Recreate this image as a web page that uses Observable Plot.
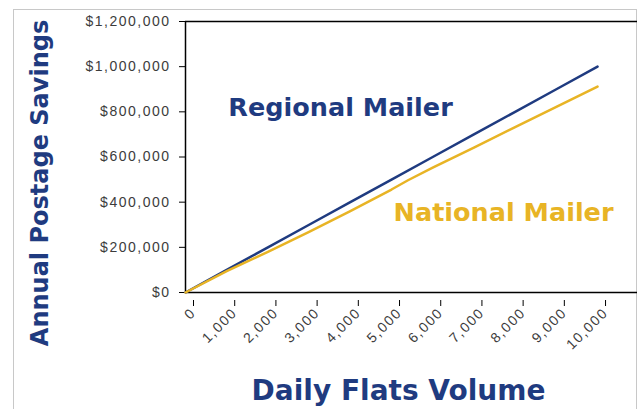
<!DOCTYPE html>
<html>
<head>
<meta charset="utf-8">
<script src="https://cdn.jsdelivr.net/npm/d3@7"></script>
<script src="https://cdn.jsdelivr.net/npm/@observablehq/plot@0.6"></script>
<style>
  html, body { margin: 0; padding: 0; background: #fff; }
  #wrap { position: relative; width: 640px; height: 409px; overflow: hidden; }
  #box { position: absolute; left: 13px; top: 9px; width: 622px; height: 420px;
         border-left: 1px solid #c8c8c8; border-top: 1px solid #c8c8c8; border-right: 1px solid #c8c8c8; }
  #chart { position: absolute; left: 0; top: 0; }
  #chart g[aria-label$="tick label"] text { letter-spacing: 1.5px; }
</style>
</head>
<body>
<div id="wrap"><div id="box"></div><div id="chart"></div></div>
<script>
const regionalVolumes = [0, 1000, 2000, 3000, 4000, 5000, 6000, 7000, 8000, 9000, 10000];
const regionalSavings = [0, 100000, 200000, 300000, 400000, 500000, 600000, 700000, 800000, 900000, 1000000];
const nationalVolumes = [0, 1000, 2000, 3000, 4000, 5000, 5400, 6000, 7000, 8000, 9000, 10000];
const nationalSavings = [0, 95000, 180000, 268000, 360000, 456000, 497000, 553000, 642000, 732000, 822000, 912000];
const yTicks = [0, 200000, 400000, 600000, 800000, 1000000, 1200000];
const xTicks = [0, 1000, 2000, 3000, 4000, 5000, 6000, 7000, 8000, 9000, 10000];
const seriesLabels = ["Regional Mailer", "National Mailer"];
const xTitle = "Daily Flats Volume";
const yTitle = "Annual Postage Savings";

const navy = "#1f3b80";
const gold = "#e8b425";
const titleFont = "'DejaVu Sans', sans-serif";

const regional = regionalVolumes.map((v, i) => ({x: v, y: regionalSavings[i]}));
const national = nationalVolumes.map((v, i) => ({x: v, y: nationalSavings[i]}));
const labels = [
  {x: 1040, y: 818000, text: seriesLabels[0], color: navy},
  {x: 5050, y: 352000, text: seriesLabels[1], color: gold}
];

const fmtX = d3.format(",");
const fmtY = d => "$" + d3.format(",")(d);

const chart = Plot.plot({
  width: 640,
  height: 409,
  marginLeft: 185,
  marginRight: 3,
  marginTop: 21,
  marginBottom: 117,
  style: {fontFamily: "'Liberation Sans', Arial, sans-serif", fontSize: "14px", color: "#3c3c3c", background: "transparent", overflow: "visible"},
  x: {domain: [0, 10970], ticks: xTicks},
  y: {domain: [0, 1200000], ticks: yTicks},
  marks: [
    Plot.ruleY([1200000], {stroke: "#000", strokeWidth: 1.5}),
    Plot.ruleX([0], {stroke: "#000", strokeWidth: 1.5}),
    Plot.ruleY([0], {stroke: "#000", strokeWidth: 1.5}),
    Plot.axisY({ticks: yTicks, tickFormat: fmtY, tickSize: 6, tickPadding: 9, label: null, stroke: "#000", fontSize: 14}),
    Plot.axisX({ticks: xTicks, tickFormat: fmtX, tickSize: 6, tickRotate: -45, tickPadding: 4, label: null, stroke: "#000",
      fontSize: 14, dx: 8, dy: 8}),
    Plot.line(regional, {x: "x", y: "y", stroke: navy, strokeWidth: 2.5}),
    Plot.line(national, {x: "x", y: "y", stroke: gold, strokeWidth: 2.5}),
    Plot.text(labels, {x: "x", y: "y", text: "text", fill: "color", textAnchor: "start",
      fontSize: 25.5, fontWeight: "bold", fontFamily: titleFont}),
    Plot.text([xTitle], {frameAnchor: "bottom", dx: -13, dy: 99, textAnchor: "middle", lineAnchor: "middle",
      fill: navy, fontSize: 28, fontWeight: "bold", fontFamily: titleFont}),
    Plot.text([yTitle], {frameAnchor: "left", dx: -145, dy: 26, rotate: -90, textAnchor: "middle", lineAnchor: "middle",
      fill: navy, fontSize: 24, fontWeight: "bold", fontFamily: titleFont})
  ]
});
document.getElementById("chart").appendChild(chart);
</script>
</body>
</html>
